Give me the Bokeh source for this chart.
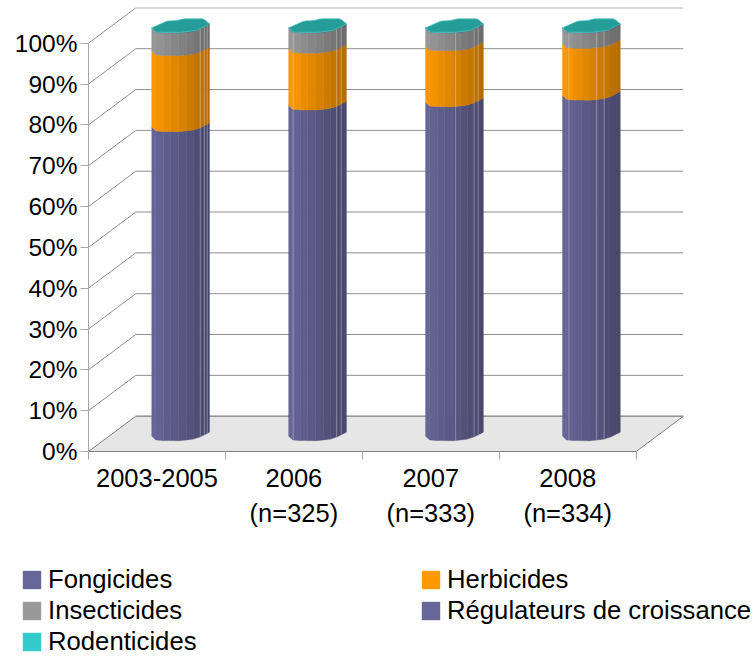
import numpy as np
from bokeh.plotting import figure
from bokeh.layouts import column
from bokeh.models import Range1d, LinearAxis, FixedTicker, Legend, LegendItem
from bokeh.embed import file_html
from bokeh.resources import INLINE

# ---- data -------------------------------------------------------------
years = ["2003-2005", "2006", "2007", "2008"]
counts = ["", "(n=325)", "(n=333)", "(n=334)"]
y_ticks = [0, 10, 20, 30, 40, 50, 60, 70, 80, 90, 100]
y_labels = ["0%", "10%", "20%", "30%", "40%", "50%", "60%", "70%", "80%", "90%", "100%"]
fongicides = [75.7, 81.0, 81.8, 83.4]
herbicides = [18.6, 13.9, 13.7, 12.7]
insecticides = [5.6, 5.0, 4.4, 3.8]
regulateurs = [0.05, 0.05, 0.05, 0.05]
rodenticides = [0.05, 0.05, 0.05, 0.05]
series_names = ["Fongicides", "Herbicides", "Insecticides", "Régulateurs de croissance", "Rodenticides"]
series_colors = ["#666699", "#ff9900", "#999999", "#666699", "#33cccc"]
series_values = [fongicides, herbicides, insecticides, regulateurs, rodenticides]

# ---- 3D look ----------------------------------------------------------
DX, DY = 0.3455, 8.65          # depth of the chart in axis units
XEND, YEND = 4 + DX, 108.74
PX_Y = 4.083                   # pixels per percent
HALF_W = 0.2105                # half width of a column, category units
STRIPS = np.array([0, .07, .2, .33, .46, .6, .72, .84, .91, .96, 1])
LOW_F, LOW_O = [0, .08, .49, .78, 1], -np.array([2.3, 6.6, 6.9, 4.8, -1.7]) / PX_Y
UP_F, UP_O = [0, .26, .43, .55, .9, 1], -np.array([2.3, -4.4, -5, -6.7, -6.7, -1.7]) / PX_Y
LIGHT_EDGES = [(.84, .91, .96), (.08, .83, .91), (.52, .84, .91), (.11, .59, .72)]
FONT = "Liberation Sans"
GRID = "#8f8f8f"

p = figure(width=754, height=560, output_backend="svg", toolbar_location=None,
           x_range=Range1d(0, XEND), y_range=Range1d(0, YEND),
           x_axis_location=None, y_axis_location=None,
           min_border_left=88, min_border_right=71, min_border_top=7, min_border_bottom=109,
           outline_line_color=None, frame_align=False)
p.grid.visible = False

# floor
p.patch([0, 4, 4 + DX, DX], [0, 0, DY, DY], fill_color="#e6e6e6", line_color="#808080", line_width=1)
# walls
for t in y_ticks:
    v = t + DY
    p.line([0, DX, 4 + DX] if t else [DX, 4 + DX], [t, v, v] if t else [v, v], line_color=GRID, line_width=1)


def shade(col, k):
    r, g, b = [int(col[i:i + 2], 16) for i in (1, 3, 5)]
    return "#%02x%02x%02x" % (round(r * k), round(g * k), round(b * k))


def xs_at(i, f):
    return i + 0.5 + DX / 2 - HALF_W + 2 * HALF_W * f


for i in range(len(years)):
    base = DY / 2
    for vals, col in zip(series_values, series_colors):
        v0, v1 = base, base + vals[i]
        base = v1
        for s in range(len(STRIPS) - 1):
            a, b = STRIPS[s], STRIPS[s + 1]
            c = shade(col, 1.0 - 0.30 * (a + b) / 2)
            ya, yb = np.interp([a, b], LOW_F, LOW_O)
            p.patch([xs_at(i, a), xs_at(i, b), xs_at(i, b), xs_at(i, a)],
                    [v0 + ya, v0 + yb, v1 + yb, v1 + ya],
                    fill_color=c, line_color=c, line_width=0.5)
    total = DY / 2 + sum(vals[i] for vals in series_values)
    for f in LIGHT_EDGES[i]:
        yf = float(np.interp(f, LOW_F, LOW_O))
        p.line([xs_at(i, f)] * 2, [DY / 2 + yf, total + yf], line_color="#ffffff", line_alpha=0.3, line_width=1)
    # top cap
    fx = np.linspace(0, 1, 25)
    cap_x = [xs_at(i, f) for f in fx] + [xs_at(i, f) for f in fx[::-1]]
    cap_y = list(total + np.interp(fx, LOW_F, LOW_O)) + list(total + np.interp(fx[::-1], UP_F, UP_O))
    p.patch(cap_x, cap_y, fill_color="#249c98", line_color="#4fc4c0", line_width=0.7)

# axes
yax = LinearAxis(ticker=FixedTicker(ticks=y_ticks), bounds=(0, 100))
yax.major_label_overrides = dict(zip(y_ticks, y_labels))
yax.major_label_text_font = FONT
yax.major_label_text_font_size = "24.5px"
yax.major_label_text_color = "#000000"
yax.major_label_standoff = 3
yax.axis_line_color = "#a6a6a6"
yax.major_tick_line_color = "#a6a6a6"
yax.major_tick_out = 8
yax.major_tick_in = 0
yax.minor_tick_line_color = None
p.add_layout(yax, "left")

centers = [k + 0.5 for k in range(len(years))]
xax = LinearAxis(ticker=FixedTicker(ticks=centers, minor_ticks=list(range(len(years) + 1))), bounds=(0, 4))
xax.major_label_overrides = dict(zip(centers, years))
xax.major_label_text_font = FONT
xax.major_label_text_font_size = "25.5px"
xax.major_label_text_color = "#000000"
xax.major_label_standoff = 9
xax.axis_line_color = "#808080"
xax.major_tick_line_color = None
xax.major_tick_out = 0
xax.major_tick_in = 0
xax.minor_tick_line_color = "#a6a6a6"
xax.minor_tick_out = 8
xax.minor_tick_in = 0
p.add_layout(xax, "below")

xax2 = LinearAxis(ticker=FixedTicker(ticks=centers), bounds=(0, 4))
xax2.major_label_overrides = dict(zip(centers, counts))
xax2.major_label_text_font = FONT
xax2.major_label_text_font_size = "25.5px"
xax2.major_label_text_color = "#000000"
xax2.major_label_standoff = 3
xax2.axis_line_color = None
xax2.major_tick_line_color = None
xax2.minor_tick_line_color = None
p.add_layout(xax2, "below")

# legend in its own full-frame strip under the chart
p2 = figure(width=754, height=96, output_backend="svg", toolbar_location=None,
            x_range=Range1d(0, 1), y_range=Range1d(0, 1),
            x_axis_location=None, y_axis_location=None,
            min_border_left=0, min_border_right=0, min_border_top=0, min_border_bottom=0,
            outline_line_color=None, frame_align=False)
p2.grid.visible = False
swatches = [p2.quad(left=[np.nan], right=[np.nan], top=[np.nan], bottom=[np.nan],
                    fill_color=c, line_color=None) for c in series_colors]


def make_legend(idx, x, y):
    lg = Legend(items=[LegendItem(label=series_names[k], renderers=[swatches[k]]) for k in idx],
                location=(x, y), orientation="vertical", border_line_color=None,
                background_fill_alpha=0, padding=0, margin=0, spacing=2,
                glyph_width=23, glyph_height=23, label_standoff=5, label_height=18,
                label_text_font=FONT, label_text_font_size="25.7px", label_text_color="#000000")
    p2.add_layout(lg, "center")


make_legend([0, 2, 4], 20, 0)
make_legend([1, 3], 419, 31)

root = column(p, p2, spacing=0)
open("out.html", "w").write(file_html(root, INLINE))
